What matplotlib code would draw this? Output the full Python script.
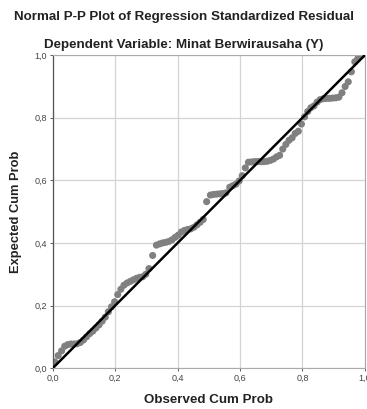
# Normal P-P plot of regression standardized residual (SPSS style)
import numpy as np
import matplotlib
matplotlib.use("Agg")
import matplotlib.pyplot as plt

plt.rcParams["font.family"] = ["Liberation Sans", "DejaVu Sans"]

# data
observed = [0.006, 0.017, 0.028, 0.038, 0.048, 0.058, 0.068, 0.078, 0.088, 0.098,
            0.108, 0.118, 0.128, 0.138, 0.148, 0.158, 0.168, 0.178, 0.188, 0.198,
            0.208, 0.218, 0.228, 0.238, 0.248, 0.258, 0.268, 0.278, 0.288, 0.298,
            0.308, 0.320, 0.332, 0.342, 0.352, 0.362, 0.372, 0.382, 0.392, 0.402,
            0.412, 0.422, 0.432, 0.442, 0.452, 0.462, 0.472, 0.482, 0.493, 0.505,
            0.515, 0.525, 0.535, 0.545, 0.555, 0.567, 0.577, 0.587, 0.597, 0.607,
            0.617, 0.627, 0.637, 0.647, 0.657, 0.667, 0.677, 0.687, 0.697, 0.707,
            0.717, 0.727, 0.737, 0.747, 0.757, 0.767, 0.777, 0.787, 0.797, 0.807,
            0.817, 0.827, 0.837, 0.847, 0.857, 0.867, 0.877, 0.887, 0.897, 0.907,
            0.917, 0.927, 0.937, 0.947, 0.957, 0.968, 0.978, 0.990]
expected = [0.020, 0.040, 0.055, 0.070, 0.075, 0.077, 0.077, 0.078, 0.082, 0.090,
            0.100, 0.110, 0.118, 0.128, 0.138, 0.150, 0.163, 0.180, 0.196, 0.212,
            0.235, 0.252, 0.265, 0.272, 0.277, 0.282, 0.287, 0.290, 0.292, 0.300,
            0.318, 0.360, 0.393, 0.397, 0.400, 0.402, 0.405, 0.410, 0.418, 0.425,
            0.435, 0.440, 0.443, 0.445, 0.450, 0.458, 0.466, 0.475, 0.532, 0.553,
            0.555, 0.556, 0.557, 0.558, 0.560, 0.578, 0.583, 0.588, 0.598, 0.615,
            0.640, 0.658, 0.659, 0.660, 0.660, 0.660, 0.660, 0.661, 0.664, 0.668,
            0.675, 0.680, 0.700, 0.715, 0.728, 0.736, 0.750, 0.757, 0.780, 0.803,
            0.820, 0.832, 0.838, 0.850, 0.858, 0.861, 0.862, 0.862, 0.863, 0.864,
            0.866, 0.880, 0.900, 0.915, 0.947, 0.979, 0.990, 1.000]

tick_vals = [0.0, 0.2, 0.4, 0.6, 0.8, 1.0]
tick_labels = ["0,0", "0,2", "0,4", "0,6", "0,8", "1,0"]

fig = plt.figure(figsize=(3.67, 4.09), dpi=100)
ax = fig.add_axes([0.144, 0.100, 0.850, 0.765])

ax.grid(True, color="#d4d4d4", lw=0.9)
ax.set_axisbelow(True)
ax.scatter(observed, expected, s=26, color="#808080", edgecolors="none", zorder=2)
ax.plot([0, 1], [0, 1], color="k", lw=1.8, zorder=3)

ax.set_xlim(0, 1)
ax.set_ylim(0, 1)
ax.set_xticks(tick_vals)
ax.set_xticklabels(tick_labels)
ax.set_yticks(tick_vals)
ax.set_yticklabels(tick_labels)
ax.tick_params(labelsize=6.5, colors="#444444", length=2, width=0.6, pad=2)

for side in ["top", "right", "bottom"]:
    ax.spines[side].set_color("#aaaaaa")
    ax.spines[side].set_linewidth(0.8)
ax.spines["left"].set_color("#555555")
ax.spines["left"].set_linewidth(0.9)

ax.set_xlabel("Observed Cum Prob", fontsize=9.6, fontweight="bold", color="#222222", labelpad=8)
ax.set_ylabel("Expected Cum Prob", fontsize=9.3, fontweight="bold", color="#222222", labelpad=9)

fig.text(0.5, 0.958, "Normal P-P Plot of Regression Standardized Residual",
         ha="center", va="center", fontsize=9.6, fontweight="bold", color="#222222")
fig.text(0.5, 0.890, "Dependent Variable: Minat Berwirausaha (Y)",
         ha="center", va="center", fontsize=9.6, fontweight="bold", color="#222222")

fig.savefig("out.png", dpi=100)
